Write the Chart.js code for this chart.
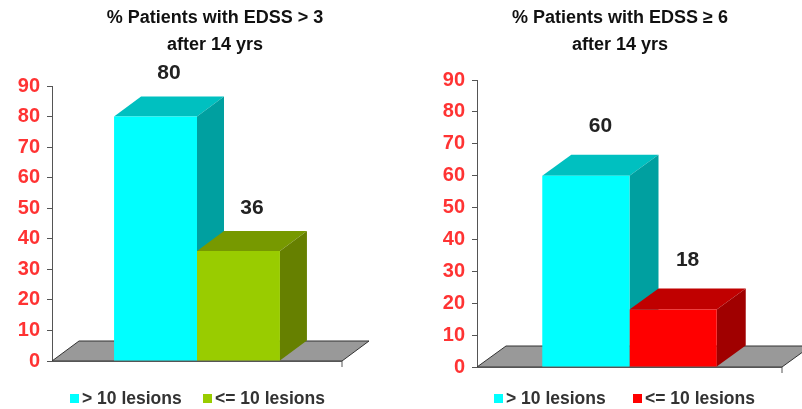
<!DOCTYPE html>
<html>
<head>
<meta charset="utf-8">
<script src="https://cdn.jsdelivr.net/npm/chart.js@4"></script>
<style>
  body { margin: 0; background: #fff; }
  .box { position: absolute; top: 0; width: 401px; height: 409px; }
</style>
</head>
<body>
<div class="box" style="left:0"><canvas id="chartLeft" width="401" height="409"></canvas></div>
<div class="box" style="left:401px"><canvas id="chartRight" width="401" height="409"></canvas></div>
<script>
// data
const seriesNames = ['> 10 lesions', '<= 10 lesions'];
const leftValues = [80, 36];
const rightValues = [60, 18];
const leftTitle = ['% Patients with EDSS > 3', 'after 14 yrs'];
const rightTitle = ['% Patients with EDSS \u2265 6', 'after 14 yrs'];

const FONT = '"Liberation Sans", Arial, sans-serif';

// 3D look: top face, side face, floor
const depthPlugin = {
  id: 'depth',
  beforeDatasetsDraw(chart, args, opts) {
    const ctx = chart.ctx;
    const area = chart.chartArea;
    const dx = opts.dx, dy = opts.dy;
    const y0 = chart.scales.y.getPixelForValue(0);
    // floor
    ctx.save();
    ctx.fillStyle = '#999999';
    ctx.strokeStyle = '#333';
    ctx.lineWidth = 1;
    ctx.beginPath();
    ctx.moveTo(area.left, y0);
    ctx.lineTo(area.left + dx, y0 + dy);
    ctx.lineTo(area.right + dx, y0 + dy);
    ctx.lineTo(area.right, y0);
    ctx.closePath();
    ctx.fill();
    ctx.stroke();
    // bottom axis line with end tick
    ctx.strokeStyle = '#555';
    ctx.beginPath();
    ctx.moveTo(area.left, y0 + 0.5);
    ctx.lineTo(area.right, y0 + 0.5);
    ctx.moveTo(area.right, y0);
    ctx.lineTo(area.right, y0 + 6);
    ctx.stroke();
    // faces for every bar
    chart.data.datasets.forEach((ds, i) => {
      chart.getDatasetMeta(i).data.forEach(bar => {
        const l = bar.x - bar.width / 2, r = bar.x + bar.width / 2;
        const t = bar.y, b = bar.base;
        ctx.fillStyle = ds.topColor;
        ctx.beginPath();
        ctx.moveTo(l, t);
        ctx.lineTo(l + dx, t + dy);
        ctx.lineTo(r + dx, t + dy);
        ctx.lineTo(r, t);
        ctx.closePath();
        ctx.fill();
        ctx.fillStyle = ds.sideColor;
        ctx.beginPath();
        ctx.moveTo(r, t);
        ctx.lineTo(r + dx, t + dy);
        ctx.lineTo(r + dx, b + dy);
        ctx.lineTo(r, b);
        ctx.closePath();
        ctx.fill();
      });
    });
    ctx.restore();
  },
  afterDatasetsDraw(chart, args, opts) {
    const ctx = chart.ctx;
    ctx.save();
    ctx.font = 'bold 21px ' + FONT;
    ctx.fillStyle = '#222';
    ctx.textAlign = 'center';
    ctx.textBaseline = 'middle';
    chart.data.datasets.forEach((ds, i) => {
      chart.getDatasetMeta(i).data.forEach((bar, j) => {
        ctx.fillText(ds.data[j], bar.x + opts.dx / 2, bar.y + opts.dy - opts.labelGap);
      });
    });
    // title
    ctx.font = 'bold 18px ' + FONT;
    ctx.fillStyle = '#111';
    opts.title.forEach((line, k) => ctx.fillText(line, opts.titleX, 18 + k * 27));
    // legend
    ctx.font = 'bold 17.5px ' + FONT;
    ctx.textAlign = 'left';
    chart.data.datasets.forEach((ds, i) => {
      const x = opts.legendX[i];
      ctx.fillStyle = ds.backgroundColor;
      ctx.fillRect(x, 394, 9, 9);
      ctx.fillStyle = '#333';
      ctx.fillText(ds.label, x + 12, 399);
    });
    ctx.restore();
  }
};

function makeChart(id, values, colors, padding, opts) {
  new Chart(document.getElementById(id), {
    type: 'bar',
    data: {
      labels: [''],
      datasets: values.map((v, i) => ({
        label: seriesNames[i],
        data: [v],
        backgroundColor: colors[i][0],
        topColor: colors[i][1],
        sideColor: colors[i][2],
        categoryPercentage: 0.572,
        barPercentage: 1
      }))
    },
    options: {
      responsive: false,
      animation: false,
      layout: { padding: padding },
      plugins: { legend: { display: false }, tooltip: { enabled: false }, depth: opts },
      scales: {
        x: { display: false },
        y: {
          min: 0, max: 90,
          afterFit(s) { s.width = 52; },
          border: { color: '#555' },
          grid: { drawOnChartArea: false, tickLength: 5, color: '#555' },
          ticks: { stepSize: 10, color: '#FF3333', font: { family: FONT, size: 20, weight: 'bold' }, padding: 7 }
        }
      }
    },
    plugins: [depthPlugin]
  });
}

makeChart('chartLeft', leftValues,
  [['#00FFFF', '#00C0C0', '#00A0A0'], ['#99CC00', '#779900', '#668000']],
  { left: 0, right: 59, top: 86, bottom: 48 },
  { dx: 27, dy: -20, labelGap: 23, title: leftTitle, titleX: 215, legendX: [70, 203] });

makeChart('chartRight', rightValues,
  [['#00FFFF', '#00C0C0', '#00A0A0'], ['#FF0000', '#C00000', '#A00000']],
  { left: 24, right: 20, top: 80, bottom: 42 },
  { dx: 29, dy: -21, labelGap: 28, title: rightTitle, titleX: 219, legendX: [93, 232] });
</script>
</body>
</html>
